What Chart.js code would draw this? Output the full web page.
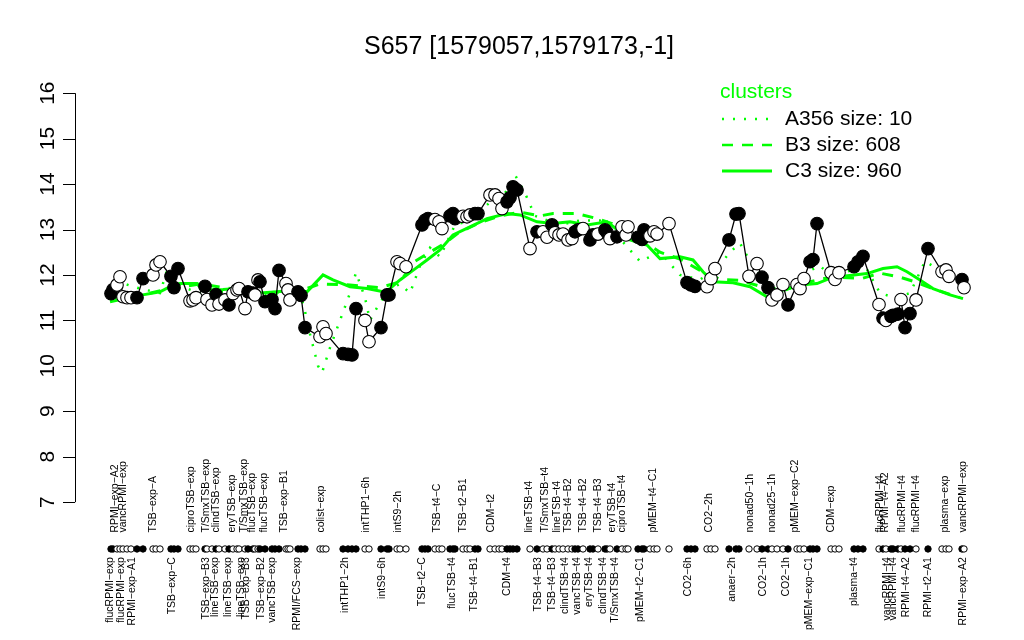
<!DOCTYPE html>
<html>
<head>
<meta charset="utf-8">
<script src="https://cdn.jsdelivr.net/npm/chart.js@4/dist/chart.umd.min.js"></script>
<style>
  html, body { margin: 0; padding: 0; background: #fff; }
  #wrap { width: 1024px; height: 640px; position: relative; }
</style>
</head>
<body>
<div id="wrap"><canvas id="myChart"></canvas></div>
<script>
// probe positions along the x axis, expression values, filled (1) or open (0) marker
var pos = [36,38,42,45,48,52,56,62,68,78,81,85,96,99,103,115,118,121,130,132,137,141,144,150,154,158,162,164,170,173,
  178,180,183,185,190,197,200,204,211,213,215,223,226,230,245,248,251,268,273,277,281,290,294,306,312,314,322,325,331,
  347,350,353,360,364,367,375,378,380,388,392,395,400,403,415,420,424,427,432,435,438,442,455,462,468,472,477,480,484,
  488,493,497,500,503,508,515,518,523,530,532,535,542,547,551,553,563,567,569,575,579,582,594,612,616,620,632,636,640,
  654,661,664,674,682,687,693,697,702,708,713,722,725,729,735,738,742,756,760,764,779,783,788,804,808,811,816,818,823,
  826,830,835,841,853,867,871,874,887,889];
var expr = [11.59,11.68,11.78,11.96,11.52,11.5,11.5,11.5,11.92,12.0,12.22,12.29,11.97,11.72,12.14,11.43,11.45,11.5,11.75,11.46,
  11.34,11.57,11.36,11.45,11.34,11.59,11.67,11.7,11.26,11.63,11.6,11.56,11.89,11.85,11.41,11.46,11.26,12.1,11.81,11.67,
  11.45,11.63,11.55,10.84,10.64,10.86,10.71,10.27,10.25,10.24,11.26,11.0,10.53,10.84,11.56,11.56,12.29,12.25,12.18,
  13.1,13.2,13.24,13.22,13.17,13.02,13.3,13.35,13.24,13.29,13.28,13.32,13.35,13.35,13.76,13.76,13.68,13.46,13.61,13.7,
  13.94,13.87,12.58,12.95,12.95,12.83,13.1,12.93,12.88,12.9,12.77,12.8,12.95,12.99,13.02,12.77,12.88,12.9,12.99,12.93,
  12.8,12.84,13.06,12.88,13.06,12.83,12.78,12.99,12.86,12.95,12.9,13.13,11.83,11.78,11.75,11.74,11.92,12.14,
  12.77,13.34,13.35,11.97,12.25,11.95,11.72,11.45,11.56,11.79,11.34,11.79,11.7,11.92,12.29,12.34,13.13,12.05,11.9,12.05,
  12.18,12.29,12.41,11.35,11.05,11.0,11.09,11.11,11.14,11.46,10.84,11.15,11.45,12.58,12.07,12.11,11.97,11.9,11.72];
var filled = [1,1,0,0,0,0,0,1,1,0,0,0,1,1,1,0,0,0,1,0,
  0,1,0,0,1,0,0,0,0,1,1,0,0,1,1,1,1,1,0,0,
  0,1,1,1,0,0,0,1,1,1,1,0,0,1,1,1,0,0,0,
  1,1,1,0,0,0,1,1,1,0,0,0,1,1,0,0,0,0,1,1,
  1,1,0,1,0,0,1,0,0,0,0,0,1,1,0,1,1,0,1,1,
  0,1,0,0,0,1,1,1,0,0,0,0,1,1,1,0,0,0,
  1,1,1,0,0,1,1,0,0,0,1,0,0,0,1,1,1,0,0,0,
  1,1,1,0,1,0,1,1,1,0,1,1,0,1,0,0,0,1,0];

// cluster profiles
var a356Pos = [35,50,65,85,92,105,125,155,185,215,225,230,235,243,247,255,265,275,281,290,295,305,315,325,335,345,355,365,
  380,395,415,430,440,450,460,485,505,525,545,565,585,605,625,640,655,665,675,685,700,715,735,745,760,775,790,805,820,
  835,850,865,885];
var a356 = [11.5,11.8,11.7,11.6,12.1,11.75,11.6,11.65,11.55,11.6,11.6,11.2,10.7,10.0,9.85,10.4,11.0,11.6,12.05,11.5,
  11.0,11.4,11.7,11.8,11.6,12.2,12.6,12.4,13.1,13.2,13.6,13.8,14.2,13.8,13.3,13.1,13.2,13.2,12.8,12.3,12.5,12.0,11.9,
  12.1,12.5,12.7,12.3,12.0,11.7,11.8,12.1,12.2,11.9,12.1,12.2,11.6,11.5,11.6,12.3,12.1,11.9];
var b3Pos = [35,65,95,125,155,185,225,245,275,305,325,340,355,370,385,405,425,445,465,478,502,522,537,550,565,585,
  605,625,645,665,685,705,725,755,788,805,825,840,855,885];
var b3 = [11.5,11.55,11.7,11.8,11.7,11.6,11.65,11.8,11.78,11.72,11.85,12.3,12.5,12.7,12.95,13.15,13.3,13.38,13.3,13.35,
  13.35,13.24,13.13,12.95,12.8,12.5,12.35,12.1,11.9,11.88,11.75,11.62,11.8,11.95,11.93,12.04,11.95,11.85,11.72,11.5];
var c3Pos = [35,65,85,95,105,122,127,148,162,182,202,222,232,248,258,275,292,308,315,325,338,352,365,378,395,412,432,
  445,462,478,495,512,532,545,555,572,585,605,618,628,638,658,675,692,708,725,742,758,768,792,808,822,832,845,858,875,888];
var c3 = [11.41,11.55,11.63,11.74,11.81,11.81,11.67,11.68,11.7,11.6,11.63,11.67,11.63,12.0,11.89,11.74,11.7,11.63,11.7,
  11.89,12.1,12.33,12.55,12.88,13.06,13.24,13.35,13.32,13.17,13.13,13.17,13.1,13.17,12.95,12.77,12.66,12.36,12.4,12.33,
  12.07,11.85,11.83,11.74,11.52,11.67,11.78,11.81,11.95,11.97,12.03,12.14,12.18,12.07,11.89,11.7,11.56,11.48];

var yTicks = [7,8,9,10,11,12,13,14,15,16];

var topLabels = [
  [40,"RPMI\u2212exp\u2212A2"],[48,"vancRPMI\u2212exp"],[78,"TSB\u2212exp\u2212A"],[116,"ciproTSB\u2212exp"],
  [131,"T/SmxTSB\u2212exp"],[141,"clindTSB\u2212exp"],[157,"eryTSB\u2212exp"],[169,"T/SmxTSB\u2212exp"],
  [177,"flucTSB\u2212exp"],[189,"flucTSB\u2212exp"],[209,"TSB\u2212exp\u2212B1"],[246,"colist\u2212exp"],
  [291,"intTHP1\u22126h"],[323,"intS9\u22122h"],[362,"TSB\u2212t4\u2212C"],[388,"TSB\u2212t2\u2212B1"],
  [416,"CDM\u2212t2"],[454,"lineTSB\u2212t4"],[470,"T/SmxTSB\u2212t4"],[482,"lineTSB\u2212t4"],
  [493,"TSB\u2212t4\u2212B2"],[508,"TSB\u2212t4\u2212B2"],[523,"TSB\u2212t4\u2212B3"],[537,"eryTSB\u2212t4"],
  [547,"ciproTSB\u2212t4"],[578,"pMEM\u2212t4\u2212C1"],[634,"CO2\u22122h"],[675,"nonad50\u22121h"],
  [697,"nonad25\u22121h"],[720,"pMEM\u2212exp\u2212C2"],[756,"CDM\u2212exp"],[805,"flucRPMI\u2212t4"],
  [810,"RPMI\u2212t4\u2212A2"],[827,"flucRPMI\u2212t4"],[841,"flucRPMI\u2212t4"],[870,"plasma\u2212exp"],
  [888,"vancRPMI\u2212exp"]
];
var bottomLabels = [
  [35,"flucRPMI\u2212exp"],[46,"flucRPMI\u2212exp"],[57,"RPMI\u2212exp\u2212A1"],[97,"TSB\u2212exp\u2212C"],
  [131,"TSB\u2212exp\u2212B3"],[140,"lineTSB\u2212exp"],[153,"lineTSB\u2212exp"],[166,"lineTSB\u2212exp"],
  [171,"TSB\u2212exp\u2212B3"],[186,"TSB\u2212exp\u2212B2"],[197,"vancTSB\u2212exp"],[222,"RPMI/FCS\u2212exp"],
  [270,"intTHP1\u22122h"],[307,"intS9\u22126h"],[347,"TSB\u2212t2\u2212C"],[377,"flucTSB\u2212t4"],
  [399,"TSB\u2212t4\u2212B1"],[432,"CDM\u2212t4"],[463,"TSB\u2212t4\u2212B3"],[477,"TSB\u2212t4\u2212B3"],
  [490,"clindTSB\u2212t4"],[502,"vancTSB\u2212t4"],[514,"eryTSB\u2212t4"],[528,"clindTSB\u2212t4"],
  [540,"T/SmxTSB\u2212t4"],[565,"pMEM\u2212t2\u2212C1"],[613,"CO2\u22126h"],[657,"anaer\u22122h"],
  [688,"CO2\u22121h"],[711,"CO2\u22121h"],[734,"pMEM\u2212exp\u2212C1"],[779,"plasma\u2212t4"],
  [812,"vancRPMI\u2212t4"],[818,"vancRPMI\u2212t4"],[831,"RPMI\u2212t4\u2212A2"],[853,"RPMI\u2212t2\u2212A1"],
  [888,"RPMI\u2212exp\u2212A2"]
];

var rowLevel = 5.97;     // y level of the marker strip
var topAnchor = 6.33;    // where upper labels start
var bottomAnchor = 5.79; // where lower labels end

var green = "#00ff00";
var FONT = "'Liberation Sans', Arial, Helvetica, sans-serif";

function pts(xs, ys) { return xs.map(function (x, i) { return {x: x, y: ys[i]}; }); }

var decor = {
  id: "decor",
  afterDraw: function (chart) {
    var ctx = chart.ctx, xs = chart.scales.x, ys = chart.scales.y;
    ctx.save();
    // title
    ctx.fillStyle = "#000";
    ctx.font = "25px " + FONT;
    ctx.textAlign = "center";
    ctx.textBaseline = "middle";
    ctx.fillText("S657 [1579057,1579173,-1]", 519, 47);

    // y axis
    var ax = xs.left;
    ctx.strokeStyle = "#000";
    ctx.lineWidth = 1;
    ctx.beginPath();
    ctx.moveTo(ax + 0.5, ys.getPixelForValue(yTicks[0]));
    ctx.lineTo(ax + 0.5, ys.getPixelForValue(yTicks[yTicks.length - 1]));
    yTicks.forEach(function (t) {
      var py = Math.round(ys.getPixelForValue(t)) + 0.5;
      ctx.moveTo(ax, py); ctx.lineTo(ax - 12, py);
    });
    ctx.stroke();
    ctx.font = "21px " + FONT;
    yTicks.forEach(function (t) {
      ctx.save();
      ctx.translate(ax - 27, ys.getPixelForValue(t));
      ctx.rotate(-Math.PI / 2);
      ctx.fillText(String(t), 0, 0);
      ctx.restore();
    });

    // rotated condition labels
    ctx.font = "10.5px " + FONT;
    ctx.textBaseline = "middle";
    topLabels.forEach(function (l) {
      ctx.save();
      ctx.translate(xs.getPixelForValue(l[0]), ys.getPixelForValue(topAnchor));
      ctx.rotate(-Math.PI / 2);
      ctx.textAlign = "left";
      ctx.fillText(l[1], 0, 0);
      ctx.restore();
    });
    bottomLabels.forEach(function (l) {
      ctx.save();
      ctx.translate(xs.getPixelForValue(l[0]), ys.getPixelForValue(bottomAnchor));
      ctx.rotate(-Math.PI / 2);
      ctx.textAlign = "right";
      ctx.fillText(l[1], 0, 0);
      ctx.restore();
    });

    // legend
    ctx.textAlign = "left";
    ctx.fillStyle = green;
    ctx.font = "21px " + FONT;
    ctx.fillText("clusters", 720, 92);
    var items = [["A356 size: 10", [2, 9], 2.5], ["B3 size: 608", [11, 9], 2.5], ["C3 size: 960", [], 3]];
    items.forEach(function (it, i) {
      var ly = 119 + i * 26;
      ctx.strokeStyle = green;
      ctx.lineWidth = it[2];
      ctx.setLineDash(it[1]);
      ctx.beginPath(); ctx.moveTo(722, ly); ctx.lineTo(772, ly); ctx.stroke();
      ctx.setLineDash([]);
      ctx.fillStyle = "#000";
      ctx.font = "21px " + FONT;
      ctx.fillText(it[0], 785, ly);
    });
    ctx.restore();
  }
};

new Chart("myChart", {
  type: "scatter",
  data: {
    datasets: [
      {
        data: pts(pos, expr),
        showLine: true,
        borderColor: "#000",
        borderWidth: 1.3,
        pointRadius: 6.3,
        pointBorderWidth: 1.1,
        pointBorderColor: "#000",
        pointBackgroundColor: filled.map(function (f) { return f ? "#000" : "#fff"; }),
        order: 0
      },
      {
        data: pos.map(function (p) { return {x: p, y: rowLevel}; }),
        showLine: false,
        pointRadius: 3.2,
        pointBorderWidth: 1,
        pointBorderColor: "#000",
        pointBackgroundColor: filled.map(function (f) { return f ? "#000" : "#fff"; }),
        order: 1
      },
      {
        data: pts(c3Pos, c3), showLine: true, borderColor: green, borderWidth: 3,
        pointRadius: 0, order: 2
      },
      {
        data: pts(b3Pos, b3), showLine: true, borderColor: green, borderWidth: 3,
        borderDash: [11, 9], pointRadius: 0, order: 3
      },
      {
        data: pts(a356Pos, a356), showLine: true, borderColor: green, borderWidth: 2.5,
        borderDash: [2, 9], pointRadius: 0, order: 4
      }
    ]
  },
  options: {
    responsive: true,
    maintainAspectRatio: false,
    animation: false,
    layout: { padding: { left: 75, right: 39, top: 75, bottom: 10.6 } },
    plugins: { legend: { display: false }, tooltip: { enabled: false } },
    scales: {
      x: { type: "linear", min: 0, max: 910, display: false },
      y: { type: "linear", min: 4.2, max: 16.4, display: false }
    }
  },
  plugins: [decor]
});
</script>
</body>
</html>
